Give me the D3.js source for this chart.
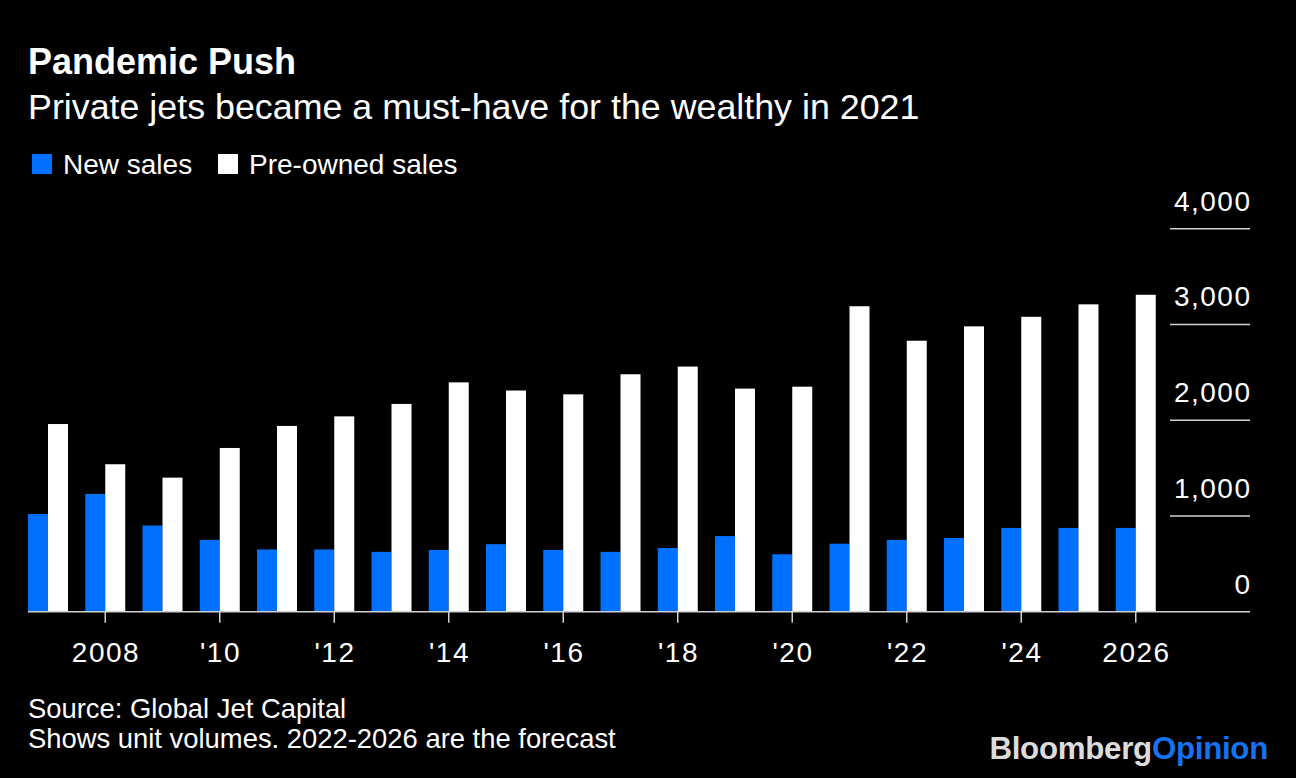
<!DOCTYPE html>
<html>
<head>
<meta charset="utf-8">
<script src="https://cdn.jsdelivr.net/npm/d3@7"></script>
<style>
  html, body { margin: 0; padding: 0; background: #000; }
  svg { display: block; }
  text { font-family: "Liberation Sans", Arial, Helvetica, sans-serif; fill: #fff; }
</style>
</head>
<body>
<svg id="chart" width="1296" height="778"></svg>
<script>
// ---- Data ----
const years = [2007, 2008, 2009, 2010, 2011, 2012, 2013, 2014, 2015, 2016,
               2017, 2018, 2019, 2020, 2021, 2022, 2023, 2024, 2025, 2026];
const newSales = [1020, 1230, 900, 750, 650, 650, 625, 645, 705, 645,
                  625, 665, 790, 600, 710, 750, 770, 875, 875, 875];
const preOwnedSales = [1960, 1540, 1400, 1710, 1940, 2040, 2170, 2395, 2310, 2270,
                       2480, 2560, 2330, 2350, 3190, 2830, 2980, 3080, 3210, 3310];
const yTicks = [0, 1000, 2000, 3000, 4000];
const xTickYears = [2008, 2010, 2012, 2014, 2016, 2018, 2020, 2022, 2024, 2026];
const xTickLabels = ["2008", "'10", "'12", "'14", "'16", "'18", "'20", "'22", "'24", "2026"];
const seriesNames = ["New sales", "Pre-owned sales"];
const seriesColors = ["#0070ff", "#ffffff"];

const title = "Pandemic Push";
const subtitle = "Private jets became a must-have for the wealthy in 2021";
const notes = ["Source: Global Jet Capital", "Shows unit volumes. 2022-2026 are the forecast"];

// ---- Layout ----
const svg = d3.select("#chart");
svg.append("rect").attr("width", 1296).attr("height", 778).attr("fill", "#000");

const plotLeft = 28, plotRight = 1250;
const step = 57.25, barW = 20;
const x = d3.scaleBand()
  .domain(years)
  .range([plotLeft, plotLeft + years.length * step - (step - 2 * barW)])
  .paddingInner((step - 2 * barW) / step)
  .paddingOuter(0);
const xSub = d3.scaleBand().domain([0, 1]).range([0, x.bandwidth()]);
const y = d3.scaleLinear().domain([0, 4000]).range([611.7, 228.7]);

// Title/subtitle
svg.append("text").attr("x", 28).attr("y", 74)
  .style("font-size", "36px").style("font-weight", "bold").text(title);
svg.append("text").attr("x", 28).attr("y", 119)
  .style("font-size", "35.8px").text(subtitle);

// Legend
const legend = svg.append("g");
const legendX = [32, 218];
seriesNames.forEach((name, i) => {
  legend.append("rect").attr("x", legendX[i]).attr("y", 154)
    .attr("width", 20).attr("height", 20).attr("fill", seriesColors[i]);
  legend.append("text").attr("x", legendX[i] + 31).attr("y", 174)
    .style("font-size", "28px").text(name);
});

// Gridlines (short, right side) + labels
const grid = svg.append("g");
yTicks.forEach(t => {
  if (t > 0) {
    grid.append("line").attr("x1", 1170).attr("x2", plotRight)
      .attr("y1", y(t)).attr("y2", y(t))
      .attr("stroke", "#d0d0d0").attr("stroke-width", 1.5);
  }
  grid.append("text").attr("x", plotRight + 1.5).attr("y", y(t) - 18)
    .attr("text-anchor", "end")
    .style("font-size", "28px").style("letter-spacing", "1.5px")
    .text(d3.format(",")(t));
});

// Bars
const groups = svg.append("g").selectAll("g")
  .data(years.map((yr, i) => ({ yr, vals: [newSales[i], preOwnedSales[i]] })))
  .join("g")
  .attr("transform", d => `translate(${x(d.yr)},0)`);
groups.selectAll("rect")
  .data(d => d.vals.map((v, k) => ({ v, k })))
  .join("rect")
  .attr("x", d => xSub(d.k))
  .attr("width", xSub.bandwidth())
  .attr("y", d => y(d.v))
  .attr("height", d => y(0) - y(d.v))
  .attr("fill", d => seriesColors[d.k]);

// Baseline
svg.append("line").attr("x1", plotLeft).attr("x2", plotRight)
  .attr("y1", y(0)).attr("y2", y(0))
  .attr("stroke", "#d0d0d0").attr("stroke-width", 1.5);

// X ticks and labels
const xt = svg.append("g");
xTickYears.forEach((yr, i) => {
  const cx = x(yr) + x.bandwidth() / 2;
  xt.append("line").attr("x1", cx).attr("x2", cx)
    .attr("y1", y(0)).attr("y2", y(0) + 11)
    .attr("stroke", "#d0d0d0").attr("stroke-width", 1.5);
  xt.append("text").attr("x", cx + 0.75).attr("y", 662)
    .attr("text-anchor", "middle")
    .style("font-size", "28px").style("letter-spacing", "1.5px")
    .text(xTickLabels[i]);
});

// Notes
notes.forEach((n, i) => {
  svg.append("text").attr("x", 28).attr("y", 718 + i * 30)
    .style("font-size", "27.4px").text(n);
});

// Logo
const logo = svg.append("text").attr("x", 1268).attr("y", 759)
  .attr("text-anchor", "end")
  .style("font-size", "31.3px").style("font-weight", "bold").style("letter-spacing", "-0.3px");
logo.append("tspan").style("fill", "#dcdcdc").text("Bloomberg");
logo.append("tspan").style("fill", "#1672f0").text("Opinion");
</script>
</body>
</html>
